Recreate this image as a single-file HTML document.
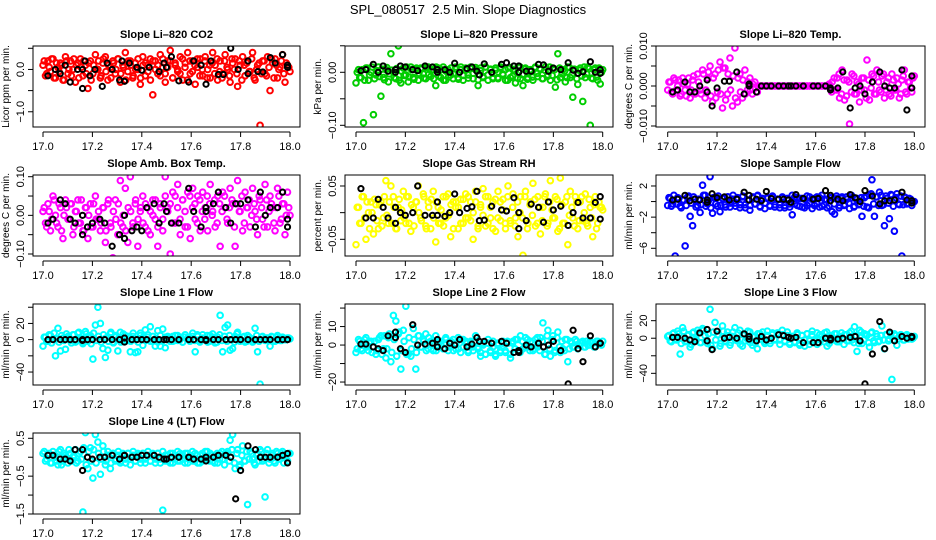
<!DOCTYPE html>
<html><head><meta charset="utf-8"><style>
body{margin:0;background:#fff}
svg{display:block;font-family:"Liberation Sans",sans-serif}
</style></head><body>
<svg id="chart" width="936" height="540" viewBox="0 0 936 540" xmlns="http://www.w3.org/2000/svg">
<text x="468" y="14" text-anchor="middle" font-size="13" xml:space="preserve" style="white-space:pre">SPL_080517  2.5 Min. Slope Diagnostics</text>
</svg>
<script>
// ---- data ----
const xTicks = [17.0,17.2,17.4,17.6,17.8,18.0];
const xTickLabels = ["17.0","17.2","17.4","17.6","17.8","18.0"];
const blackTimes = [17.02,17.04,17.07,17.09,17.11,17.13,17.16,17.16,17.18,17.2,17.23,17.25,17.28,17.31,17.33,17.33,17.36,17.38,17.4,17.42,17.45,17.47,17.49,17.5,17.52,17.55,17.59,17.61,17.64,17.66,17.66,17.69,17.71,17.74,17.76,17.78,17.8,17.83,17.86,17.88,17.9,17.92,17.95,17.97,17.99,17.99];
const co2Black_t = [17.02,17.05,17.07,17.09,17.11,17.14,17.16,17.16,17.17,17.19,17.21,17.24,17.26,17.28,17.31,17.32,17.33,17.35,17.38,17.40,17.43,17.47,17.49,17.5,17.52,17.55,17.59,17.61,17.64,17.66,17.68,17.71,17.73,17.76,17.79,17.83,17.83,17.87,17.89,17.92,17.94,17.97,17.99,17.99];
const co2 = [.1,-.15,.2,-.05,.25,-.2,.05,.15,-.25,.3,-.1,.2,0,-.3,.15,.25,-.15,.1,-.45,.2,-.1,.35,0,-.2,.15,.3,-.25,.05,.2,-.1,.25,-.3,.1,.4,-.05,.2,-.2,.15,0,-.35,.3,-.15,.1,.25,-.6,.2,-.1,.35,.05,-.3,.2,.45,-.2,.1,-.05,.3,-.25,.15,.4,-.1,.2,-.35,.05,.25,-.15,.3,0,-.2,.4,.1,-.25,.2,-.1,.35,0,-.3,.15,.25,-.4,.1,.3,-.15,.2,-.05,.4,-.25,.1,-1.32,.2,-.1,.3,-.5,.15,.25,-.2,.05,.35,-.3,.1,-.05];
const co2B = [.2,-.1,.05,.25,-.2,.15,-.05,.1,-.25,.2,0,-.15,.25,.1,-.2,.05,.2,-.1,.15,-.25,.1,0,.2,-.15,.25,-.05,.1,-.2,.15,0,.25,-.1,.05,-.25,.2,.1,-.15,0,.25,-.2,.1,.15,-.05,-.25,.2,0,.1,-.15,.25,-.1,.05,.2,-.2,.15,0,-.1,.25,.05,-.25,.2,-.05,.1,.25,-.15,0,.2,-.2,.1,.15,-.1,.25,-.05,-.2,.2,.05,-.15,.25,0,-.1,.2,-.25,.1,.15,-.05,.25,-.2,0,.15,-.1,.2,-.15,.05,.25,-.2,.1,0,.2,-.1,.15,.05];
const co2Black = [-.15,0,-.1,.1,-.3,0,-.45,0,.2,-.15,0,-.4,.15,0,-.25,.2,-.28,.15,.05,-.02,.05,-.05,.15,.05,.3,-.27,-.3,.2,.1,-.35,.2,-.12,-.12,.5,0,.2,-.1,-.05,-.06,.28,.15,.35,.1,.05];
const pressure = [-.02,.005,-.01,-.095,.008,-.015,0,-.08,-.005,.01,-.045,-.01,.005,-.018,.035,0,-.012,.05,-.02,.008,-.005,-.018,.01,-.01,.005,-.015,.008,-.003,-.012,.01,-.008,.005,-.025,.008,-.01,.01,-.015,.005,-.005,-.012,.01,-.01,.005,-.015,.008,-.005,.01,-.012,.005,-.025,.008,-.01,.01,-.015,.005,-.01,.008,-.012,.01,-.005,-.015,.008,-.01,.005,-.02,.01,-.012,-.025,.008,-.01,.005,-.015,.01,-.008,.005,-.012,.01,-.005,-.015,.008,-.028,.035,-.01,.005,-.018,.01,-.01,-.047,.005,-.023,.008,-.055,-.01,.01,-.1,-.012,.008,-.015,-.022,.005];
const pressureB = [0,-.01,.005,-.015,.008,-.005,.01,-.012,.003,-.008,.006,-.014,.009,-.003,.004,-.01,.007,-.015,.002,-.006,.01,-.009,.005,-.013,.008,-.002,.006,-.011,.009,-.004,.003,-.012,.01,-.007,.005,-.015,.002,-.009,.008,-.003,.006,-.013,.01,-.006,.004,-.011,.007,-.002,.009,-.014,.003,-.008,.01,-.005,.006,-.012,.004,-.01,.008,-.003,.005,-.015,.009,-.007,.002,-.011,.01,-.004,.006,-.013,.003,-.009,.008,-.002,.007,-.012,.004,-.008,.01,-.006,.005,-.014,.008,-.003,.002,-.01,.009,-.005,.006,-.012,.004,-.007,.01,-.003,.007,-.011,.005,-.009,.008,0];
const pressureBlack = [.003,.005,.015,0,.012,.002,.005,0,.012,.01,.005,.003,.012,.01,.005,0,.005,0,.017,0,.007,.01,.002,-.005,.016,0,.015,.018,.012,.012,0,.002,.002,.015,.014,.002,.008,.005,.018,.004,-.002,.001,.02,0,.005,-.002];
const licorTemp = [-.001,.001,-.002,.0015,0,-.0025,.002,-.001,.0005,-.003,.0015,-.002,.003,-.001,.004,-.003,.002,.005,-.004,.003,-.0015,.006,-.0055,.0045,-.002,.007,-.005,.0095,-.004,.003,-.003,.004,-.001,.002,-.002,.001,-.0015,0,0,0,0,0,0,0,0,0,0,0,0,0,0,0,0,0,0,0,0,0,0,0,0,0,0,0,0,0,.001,-.001,.002,-.003,.004,-.0035,.0015,-.0095,.003,-.002,.001,-.004,.002,-.001,.0065,-.0035,.003,-.002,.004,-.001,.0025,-.003,.001,-.002,.003,-.001,.002,-.003,.0015,.004,-.002,.001,-.0015,.0025];
const licorTempB = [.001,-.0015,.002,-.001,.0015,-.002,.0005,-.0025,.002,-.001,.0025,-.0015,.001,-.002,.003,-.001,.0035,-.0025,.002,-.003,.004,-.002,.0045,-.0035,.003,-.001,.0025,-.003,.002,-.0015,.0015,-.002,.001,-.001,.0005,-.0005,0,0,0,0,0,0,0,0,0,0,0,0,0,0,0,0,0,0,0,0,0,0,0,0,0,0,0,0,0,.0005,-.0015,.002,-.001,.003,-.002,.0015,-.0025,.001,-.0015,.0025,-.002,.0005,-.001,.002,-.003,.0015,-.0005,.0025,-.002,.001,-.0015,.003,-.001,.002,-.0025,.0015,-.001,.0005,-.002,.0025,-.0015,.001,-.0005,.002];
const licorTempBlack = [-.0015,-.001,.001,-.0015,-.0015,0,.0015,-.0015,-.005,-.0005,.0012,.0012,.0035,-.002,.0005,0,-.0015,0,0,0,0,0,0,0,0,0,0,0,0,-.0005,-.001,-.0005,.0035,-.0055,-.0005,0,-.002,.001,.0035,0,-.0005,-.0005,.004,-.006,.0025,-.0005];
const ambTemp = [.01,-.02,.03,-.04,.05,0,-.03,.02,-.06,.04,-.01,.03,-.05,.01,.04,-.02,-.04,.02,-.06,.03,-.03,.05,-.01,-.04,.02,-.07,.03,-.02,-.11,.04,-.05,.09,-.03,.07,-.07,.1,-.02,.03,-.08,.01,.05,-.03,.02,-.05,.04,-.01,-.08,.03,-.04,.1,.02,-.1,.06,-.02,.08,-.05,.04,-.03,.06,-.06,.07,-.01,.05,-.04,.06,.02,-.04,.08,.01,-.03,.05,-.08,.06,.02,-.02,.07,.03,-.08,.09,.01,-.04,.06,.02,-.03,.07,.01,-.05,.04,-.01,.08,-.03,.05,.02,-.04,.07,-.02,.03,-.05,.06,0];
const ambTempB = [.02,-.03,.01,-.01,.04,-.02,.03,-.04,0,.02,-.01,.03,-.03,.01,-.02,.04,-.04,.02,0,-.03,.03,-.01,.01,-.02,.02,-.04,.04,-.03,.01,-.01,.03,-.02,0,-.04,.02,.01,-.03,.04,-.01,.02,-.02,.03,-.04,.01,0,.04,-.03,.02,-.01,.05,.01,.03,-.02,.05,.02,-.01,.04,.01,-.03,.05,.02,.03,-.02,.04,.01,-.01,.05,.03,0,.04,-.02,.03,.01,.05,-.01,.02,.04,-.03,.03,.01,.05,-.02,.02,.04,0,.03,-.01,.05,.02,-.03,.04,.01,.03,-.02,.02,.05,-.01,.03,0,.02];
const ambTempBlack = [-.02,-.01,.04,.03,-.01,-.02,-.05,0,-.03,-.02,-.01,-.02,-.08,-.05,-.06,0,-.04,-.03,-.04,.02,.03,-.02,.03,.01,-.02,-.02,.07,.01,-.03,.02,.01,.03,.06,.02,-.02,.03,.03,.04,-.03,.06,0,.02,.02,.06,-.01,-.03];
const rh = [-.06,.01,-.02,.03,-.05,0,.02,-.04,.015,-.03,.02,-.01,.06,-.02,.05,.03,-.03,.01,-.015,.04,-.02,.03,-.035,.01,.02,.05,-.01,.035,-.025,.02,-.03,.04,-.055,.01,-.02,.03,-.01,.035,-.045,.02,.01,-.03,.025,-.02,.035,-.01,.02,-.05,.04,-.03,.01,.045,-.025,.03,-.01,.02,-.035,.04,-.015,.025,-.03,.05,-.02,.035,-.01,-.045,.03,-.08,.04,-.02,.02,.055,-.025,.03,-.04,.01,.035,-.02,.06,-.01,.03,-.035,.065,-.02,.02,-.06,.04,-.01,.03,-.03,.02,-.015,.035,-.025,.01,-.045,.03,-.02,.01,.005];
const rhB = [.01,-.02,.03,-.01,.02,-.03,0,.025,-.015,.015,-.025,.03,-.005,.02,-.02,.01,-.03,.025,.005,-.01,.03,-.02,.015,-.025,.02,0,-.015,.03,-.03,.01,.025,-.01,.02,-.02,.005,-.025,.03,-.005,.015,-.03,.02,.01,-.02,.025,-.01,.03,-.015,0,.02,-.025,.015,-.005,.03,-.02,.01,-.03,.025,-.01,.02,.005,-.02,.03,-.015,.01,-.025,.02,0,-.01,.03,-.03,.015,-.005,.025,-.02,.01,-.015,.03,-.025,.02,.005,-.01,.025,-.03,.015,-.02,.03,-.005,.01,-.025,.02,-.015,.03,0,-.02,.025,-.01,.015,-.03,.02,.01];
const rhBlack = [.045,-.01,-.01,.025,.01,-.01,-.02,.01,0,-.005,0,.05,-.005,-.005,-.005,.02,-.007,0,.035,0,.008,.011,.04,-.015,-.014,.012,.005,.003,.028,-.03,0,-.015,.016,.01,-.018,.02,.005,.012,-.024,0,.019,-.01,-.01,.019,.03,-.012];
const sampleFlow = [-.5,.4,-.3,-7,.5,-.6,.2,-5.7,.6,-1.9,-3.1,.3,-.5,-1.4,2.1,.8,-.3,3.2,-1.5,.5,-.6,-1.3,.4,-.4,.6,-.7,.3,-.2,.5,-.8,.6,-.4,.2,-1.1,.5,-.3,.7,-.6,.3,-.9,.4,-.5,.6,-.7,.3,-.4,.5,-.8,.4,-.3,-1.7,.6,-.5,.4,-.7,.3,-.5,.6,-.9,.4,-.3,.5,-.6,.3,-.8,.5,-1.3,-1.6,.4,-.5,.6,-.4,.3,-.9,.5,-.6,.4,-.3,-1.9,.5,-.7,.8,2.8,-1.9,.6,1.2,-.5,-3.1,.4,-2.2,.8,-3.8,1,-.4,-7,.6,-.3,.4,-.5,0];
const sampleFlowB = [.5,-.6,.8,-.3,.4,-.8,.2,-.5,.7,-.2,.6,-.7,.3,-.4,.8,-.6,.1,-.8,.5,-.3,.7,-.5,.4,-.7,.6,-.2,.8,-.6,.3,-.4,.7,-.8,.2,-.5,.6,-.3,.8,-.7,.4,-.2,.5,-.6,.7,-.4,.3,-.8,.6,-.5,.2,-.7,.8,-.3,.5,-.6,.4,-.8,.7,-.2,.3,-.5,.6,-.7,.8,-.4,.2,-.6,.5,-.3,.7,-.8,.4,-.5,.6,-.2,.8,-.7,.3,-.4,.5,-.6,.7,-.8,1,-.3,.6,-.5,.8,-.4,.7,-.2,.9,-.6,.5,-.3,.7,-.4,.5,-.2,.3,-.1];
const sampleFlowBlack = [.2,.3,.8,.1,.3,.2,.2,-.1,1,.5,.6,.2,.3,1.2,.2,.8,.3,.1,1.3,.4,.3,.3,.2,-.1,.9,.4,.3,.4,1.4,.8,.1,.3,.1,.9,.5,0,1.4,.7,-.3,.1,.1,.2,1.2,.2,.1,-.2];
const line1 = [-8,3,-2,5,1,-20,14,-14,2,-12,4,-1,6,-3,8,2,-5,10,-2,5,-24,18,40,20,-11,-22,-13,7,-3,3,-14,9,-2,5,-1,-15,4,-16,-15,8,-7,12,3,16,-2,-8,11,-8,13,-10,4,1,-2,5,-1,3,-3,6,2,-1,8,-15,4,-2,6,1,-3,5,7,-4,3,30,-15,15,18,-13,-11,4,9,-2,3,-3,5,-1,-3,14,-15,-55,4,-1,2,-8,3,-2,5,-1,3,0,2,1];
const line1B = [3,-2,6,-4,8,1,-3,5,-1,7,2,-4,6,-2,9,0,-3,7,3,-5,8,-1,4,-3,6,2,-2,9,-4,5,1,-3,7,-1,4,-2,8,0,-3,5,3,-1,6,-2,4,1,-3,5,-1,3,2,-2,4,-1,5,0,-3,3,1,-2,4,-1,6,-3,2,0,5,-2,3,1,-3,6,-1,4,-2,5,0,-3,7,2,-1,4,-2,3,1,-1,5,-2,3,0,2,-1,4,-1,3,1,-1,2,0,2];
const line1Black = [0,0,0,0,0,0,0,-1,0,0,0,0,0,0,-3,2,0,0,0,0,0,0,0,0,0,0,0,0,0,0,-1,0,0,0,0,0,0,0,0,0,0,0,0,0,0,0];
const line2 = [-4,3,-2,1,4,-3,2,-1,-5,3,5,-2,-7,4,-9,16,13,6,-13,8,21,-5,-6,9,-13,5,-1,3,6,-2,2,-3,5,-1,2,-2,4,-3,1,3,-2,4,-4,3,1,-3,2,-1,5,-2,-6,1,-5,3,-4,2,-6,1,-3,2,-4,1,-7,2,3,-3,5,-2,4,-1,2,-3,3,-1,4,12,-5,8,-6,5,-3,7,-4,-2,3,-9,2,-1,3,-2,1,2,-1,0,2,1,-1,2,1,2];
const line2B = [-2,2,-3,3,-1,1,-4,2,-3,4,-5,5,-2,6,-4,3,-6,7,-3,2,-5,4,-2,3,-4,5,-1,2,-3,4,-2,1,-3,2,0,-2,3,-1,2,-3,1,-2,3,-1,2,-4,1,-3,2,-1,-4,0,-5,1,-3,-1,-5,0,-4,1,-3,2,-5,1,-2,3,-4,2,-1,3,-3,1,-2,4,-3,2,-5,5,-2,3,-4,4,-1,2,-3,3,-2,1,-1,2,0,1,-1,2,0,1,-1,2,1,0];
const line2Black = [.5,.5,-1,-2,-3,5,7,4,-2,-4,11,0,.5,1,3,-1,-2,1,0,3,-1,.5,4,2,2,1,2,1,-4,-3,-4,0,-1,1,-1,0,2,-3,-21,8,-2,-9,5,-1,1,1];
const line3 = [2,-3,5,-1,8,-18,12,-4,3,-10,6,-2,9,-5,11,3,-6,33,-12,18,4,-9,14,-3,7,-8,2,12,-3,9,-9,4,-1,7,-8,2,-12,5,-2,-6,8,-3,4,-1,6,-2,9,-4,3,-7,2,-5,4,-8,3,-9,5,-3,8,-2,-7,4,-1,6,-9,3,-2,5,-4,2,-1,4,-3,6,-2,13,-15,9,-6,5,3,-10,7,-5,2,-3,14,-12,4,-1,-47,5,-8,2,3,-2,4,1,-1,2];
const line3B = [3,-4,6,-2,5,-6,8,-3,4,-7,7,-1,6,-5,9,-3,5,-8,7,-2,4,-6,8,-4,3,-5,7,-2,6,-7,4,-3,8,-5,2,-6,5,-1,7,-4,3,-6,6,-2,5,-7,4,-3,7,-5,2,-4,6,-6,3,-2,5,-7,4,-3,6,-5,2,-4,7,-6,3,-2,5,-4,6,-7,4,-3,8,-5,3,-6,7,-2,4,-5,6,-3,5,-4,3,-2,4,-3,5,-2,3,-1,4,-2,3,-1,2,0];
const line3Black = [1,1,0,-2,-4,6,10,-3,-13,8,0,1,0,5,-1,2,-3,2,-2,0,4,3,1,0,1,-5,-5,-5,0,-2,0,-1,0,1,2,-3,-52,-18,19,-12,7,-3,2,0,1,2];
const line4 = [.1,-.1,.05,-.15,.15,0,-.2,.2,-.1,.05,-.15,.1,0,.2,-.1,.15,-1.45,.65,-.3,.25,-.55,.6,.4,-.45,.3,-.2,.15,-.3,.1,-.1,.05,-.15,.1,-.05,.1,-.2,.05,-.1,.1,-.05,.1,-.15,.05,-.1,.1,-.05,.1,-.15,-1.4,.05,-.1,.1,-.15,.05,-.1,.1,-.05,.1,-.15,.05,-.1,.1,-.15,.05,-.1,.15,-.05,.1,-.1,.05,-.15,.1,-.05,.1,.15,.45,.6,-.3,.2,-.2,.3,-.1,-1.25,.15,-.05,-.2,.1,.2,-.1,-1.05,.2,-.05,.1,-.15,.1,-.05,.15,.05,-.1,.1];
const line4B = [.15,-.05,.1,-.15,.05,-.1,.15,-.2,.1,0,.2,-.1,.05,-.15,.1,-.05,.25,-.2,.15,-.1,.2,-.15,.1,-.05,.15,-.1,.05,-.15,.1,-.05,.15,-.1,.05,-.15,.1,0,.15,-.1,.05,-.15,.1,-.05,.15,-.1,.05,-.15,.1,-.05,.15,-.1,.05,-.15,.1,-.05,.15,-.1,.05,-.15,.1,-.05,.15,-.1,.05,-.15,.1,-.05,.15,-.1,.05,-.15,.1,-.05,.15,-.2,.1,-.1,.2,-.15,.1,-.25,.05,-.1,.15,-.05,.1,-.15,.05,-.1,.15,-.05,.1,-.15,.05,-.1,.15,-.05,.1,-.15,.05,.1];
const line4Black = [.05,.05,-.05,-.05,-.1,.2,.2,-.35,0,-.05,0,0,.05,-.05,.05,.05,0,0,.05,.05,.05,0,-.05,-.05,0,0,0,-.05,-.05,-.1,0,0,.05,.05,0,-1.1,-.35,.3,.2,0,0,0,0,.05,.1,-.15];

// ---- panel definitions (layout + axis) ----
const panels = [
 {name:"co2",title:"Slope Li\u2013820 CO2",ylab:"Licor ppm per min.",col:0,row:0,ymax:0.554,ymin:-1.36,ticks:[0.5,0,-0.5,-1],labels:{"0":"0.0","-1":"\u22121.0"},color:"#ff0000",vals:co2,valsB:co2B,bt:co2Black_t,bv:co2Black},
 {name:"pressure",title:"Slope Li\u2013820 Pressure",ylab:"kPa per min.",col:1,row:0,ymax:0.0496,ymin:-0.1032,ticks:[0.05,0,-0.05,-0.1],labels:{"0":"0.00","-0.1":"\u22120.10"},color:"#00cd00",vals:pressure,valsB:pressureB,bt:blackTimes,bv:pressureBlack},
 {name:"licor-temp",title:"Slope Li\u2013820 Temp.",ylab:"degrees C per min.",col:2,row:0,ymax:0.010,ymin:-0.01025,ticks:[0.01,0.005,0,-0.005,-0.01],labels:{"0.01":"0.010","0":"0.000","-0.01":"\u22120.010"},color:"#ff00ff",vals:licorTemp,valsB:licorTempB,bt:blackTimes,bv:licorTempBlack},
 {name:"amb-box-temp",title:"Slope Amb. Box Temp.",ylab:"degrees C per min.",col:0,row:1,ymax:0.1044,ymin:-0.1052,ticks:[0.1,0.05,0,-0.05,-0.1],labels:{"0.1":"0.10","0":"0.00","-0.1":"\u22120.10"},color:"#ff00ff",vals:ambTemp,valsB:ambTempB,bt:blackTimes,bv:ambTempBlack},
 {name:"gas-stream-rh",title:"Slope Gas Stream RH",ylab:"percent per min.",col:1,row:1,ymax:0.0706,ymin:-0.0813,ticks:[0.05,0,-0.05],labels:{"0.05":"0.05","-0.05":"\u22120.05"},color:"#ffff00",vals:rh,valsB:rhB,bt:blackTimes,bv:rhBlack},
 {name:"sample-flow",title:"Slope Sample Flow",ylab:"ml/min per min.",col:2,row:1,ymax:3.41,ymin:-6.99,ticks:[2,0,-2,-4,-6],labels:{"2":"2","-2":"\u22122","-6":"\u22126"},color:"#0000ff",vals:sampleFlow,valsB:sampleFlowB,bt:blackTimes,bv:sampleFlowBlack},
 {name:"line1-flow",title:"Slope Line 1 Flow",ylab:"ml/min per min.",col:0,row:2,ymax:44,ymin:-56,ticks:[40,20,0,-20,-40],labels:{"20":"20","0":"0","-40":"\u221240"},color:"#00ffff",vals:line1,valsB:line1B,bt:blackTimes,bv:line1Black},
 {name:"line2-flow",title:"Slope Line 2 Flow",ylab:"ml/min per min.",col:1,row:2,ymax:22.2,ymin:-21.6,ticks:[20,10,0,-10,-20],labels:{"10":"10","0":"0","-20":"\u221220"},color:"#00ffff",vals:line2,valsB:line2B,bt:blackTimes,bv:line2Black},
 {name:"line3-flow",title:"Slope Line 3 Flow",ylab:"ml/min per min.",col:2,row:2,ymax:39,ymin:-53.3,ticks:[20,0,-20,-40],labels:{"20":"20","0":"0","-40":"\u221240"},color:"#00ffff",vals:line3,valsB:line3B,bt:blackTimes,bv:line3Black},
 {name:"line4-flow",title:"Slope Line 4 (LT) Flow",ylab:"ml/min per min.",col:0,row:3,ymax:0.64,ymin:-1.5,ticks:[0.5,0,-0.5,-1,-1.5],labels:{"0.5":"0.5","-0.5":"\u22120.5","-1.5":"\u22121.5"},color:"#00ffff",vals:line4,valsB:line4B,bt:blackTimes,bv:line4Black}
];

const colBox = [[33,300,43,290],[345,613,356,602.7],[656,925,667.7,914.3]];
const NS = "http://www.w3.org/2000/svg";
const svg = document.getElementById("chart");
function mk(tag, attrs, parent){const e=document.createElementNS(NS,tag);for(const k in attrs)e.setAttribute(k,attrs[k]);(parent||svg).appendChild(e);return e;}

panels.forEach(p=>{
  const [bl,br,x17,x18] = colBox[p.col];
  const top = 46 + 129*p.row, bot = 127 + 129*p.row;
  const xs = t => x17 + (t-17)*(x18-x17);
  const ys = v => top + (p.ymax - v)/(p.ymax - p.ymin)*(bot-top);
  const g = mk("g",{});
  
  
  const tt = mk("text",{x:(bl+br)/2,y:top-8,"text-anchor":"middle","font-size":11,"font-weight":"bold"},g);
  tt.textContent = p.title;
  
  
  const cid = "clip-"+p.name;
  const cp = mk("clipPath",{id:cid},g);
  mk("rect",{x:bl,y:top,width:br-bl,height:bot-top},cp);
  const pts = mk("g",{"clip-path":"url(#"+cid+")",fill:"none","stroke-width":2},g);
  
  
  const nB = p.valsB.length;
  p.valsB.forEach((v,i)=>{
    const c = mk("circle",{cx:xs(17+(i+0.5)/nB),cy:ys(v),r:2.8,stroke:p.color},pts);
    
    
  });
  const n = p.vals.length;
  p.vals.forEach((v,i)=>{
    const c = mk("circle",{cx:xs(17+i/(n-1)),cy:ys(v),r:2.8,stroke:p.color},pts);
    
    
  });
  const m = Math.min(p.bt.length,p.bv.length);
  for(let i=0;i<m;i++){
    const c = mk("circle",{cx:xs(p.bt[i]),cy:ys(p.bv[i]),r:2.6,stroke:"#000"},pts);
    
    
  }
  const box = mk("rect",{x:bl,y:top,width:br-bl,height:bot-top,fill:"none",stroke:"#000","stroke-width":1},g);
  
  
  const ax = mk("g",{stroke:"#000","stroke-width":1},g);
  
  
  mk("line",{x1:x17,x2:x18,y1:bot+5,y2:bot+5},ax);
  xTicks.forEach((t,i)=>{
    mk("line",{x1:xs(t),x2:xs(t),y1:bot+5,y2:bot+10},ax);
    const l = mk("text",{x:xs(t),y:bot+23,"text-anchor":"middle","font-size":11,stroke:"none",fill:"#000"},ax);
    l.textContent = xTickLabels[i];
  });
  const ay = mk("g",{stroke:"#000","stroke-width":1},g);
  
  
  p.ticks.forEach(t=>{
    const y = ys(t);
    mk("line",{x1:bl-5,x2:bl,y1:y,y2:y},ay);
    const key = String(t);
    if(p.labels[key]!==undefined){
      const l = mk("text",{x:0,y:0,transform:`translate(${bl-9},${y}) rotate(-90)`,"text-anchor":"middle","font-size":11,stroke:"none",fill:"#000"},ay);
      l.textContent = p.labels[key];
    }
  });
  const yl = mk("text",{x:0,y:0,transform:`translate(${bl-24},${(top+bot)/2}) rotate(-90)`,"text-anchor":"middle","font-size":10,fill:"#000"},g);
  yl.textContent = p.ylab;
  
  
});
</script>
</body></html>
